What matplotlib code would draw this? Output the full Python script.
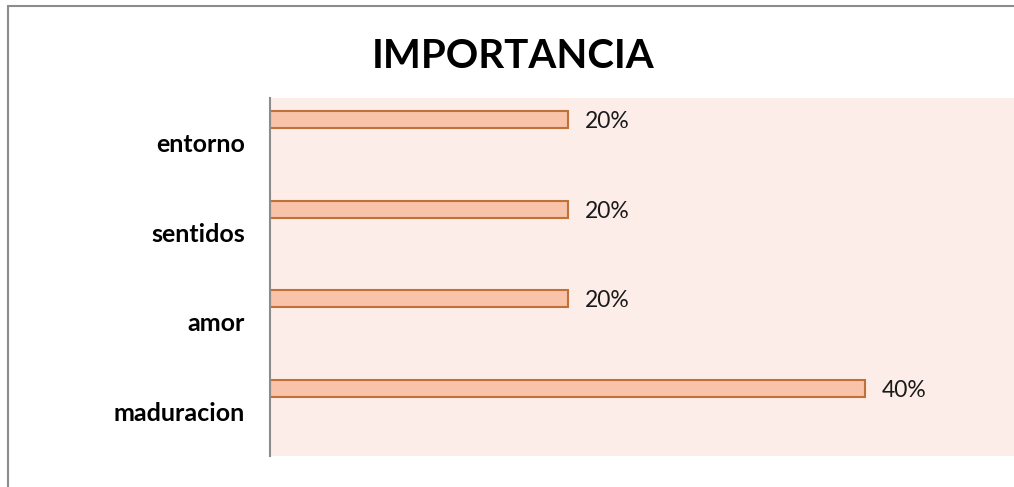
import matplotlib.pyplot as plt
from matplotlib.patches import Rectangle

categories = ['maduracion', 'amor', 'sentidos', 'entorno']
values = [0.40, 0.20, 0.20, 0.20]
labels = ['40%', '20%', '20%', '20%']

fig = plt.figure(figsize=(10.14, 4.87), dpi=100)
fig.patch.set_facecolor('white')

# outer chart border (cut off at right and bottom like the reference)
fig.patches.append(Rectangle((8 / 1014, -0.1), 1.1, (487 - 6) / 487 + 0.1,
                             transform=fig.transFigure, fill=False,
                             edgecolor='#8c8c8c', linewidth=1.5))

ax = fig.add_axes([270 / 1014, 31 / 487, 1 - 270 / 1014, 358 / 487])
ax.set_facecolor('#fcede8')

pos = [i + 0.257 for i in range(len(categories))]
ax.barh(pos, values, height=0.19, color='#f8c3a9', edgecolor='#c0713a', linewidth=1.5)

for p, v, t in zip(pos, values, labels):
    ax.text(v + 0.0114, p - 0.02, t, va='center', ha='left', fontsize=16.5,
            family='Lato', color='#1a1a1a')

ax.set_xlim(0, 0.5)
ax.set_ylim(-0.5, len(categories) - 0.5)
ax.set_yticks(range(len(categories)))
ax.set_yticklabels(categories, fontsize=18, fontweight='bold', family='Lato')
ax.tick_params(axis='y', length=0, pad=18)
ax.set_xticks([])

for s in ['top', 'right', 'bottom']:
    ax.spines[s].set_visible(False)
ax.spines['left'].set_color('#8c8c8c')
ax.spines['left'].set_linewidth(1.5)

fig.text(513 / 1014, 1 - 57 / 487, 'IMPORTANCIA', ha='center', va='center',
         fontsize=29, fontweight='bold', family='Lato')

plt.savefig('out.png', dpi=100)
